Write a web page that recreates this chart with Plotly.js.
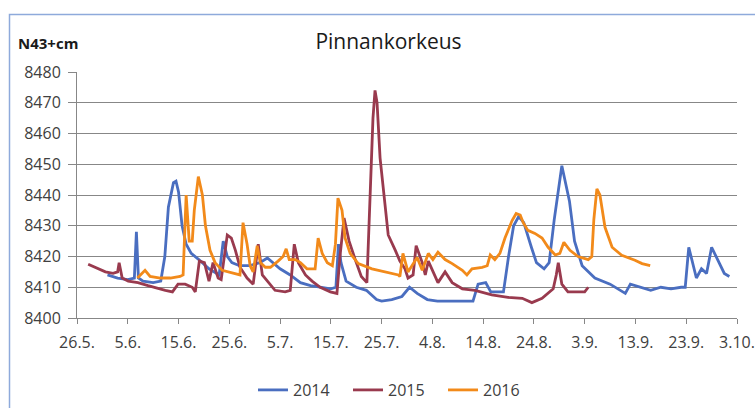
<!DOCTYPE html>
<html>
<head>
<meta charset="utf-8">
<script src="https://cdn.plot.ly/plotly-3.0.1.min.js"></script>
<style>
  html, body { margin: 0; padding: 0; background: #ffffff; }
  #chart { width: 755px; height: 408px; }
</style>
</head>
<body>
<div id="chart"></div>
<script>
// x values: days since 26.5.
const tickDays   = [0, 10, 20, 30, 40, 50, 60, 70, 80, 90, 100, 110, 120, 130];
const tickLabels = ["26.5.", "5.6.", "15.6.", "25.6.", "5.7.", "15.7.", "25.7.", "4.8.", "14.8.", "24.8.", "3.9.", "13.9.", "23.9.", "3.10."];

const days2014 = [
  6, 8, 10, 11.3, 11.7, 12.1, 13, 15, 16.5, 17.3,
  18, 19, 19.5, 20, 20.7, 21.5, 22.5, 24, 26, 28,
  28.8, 29.6, 30.5, 32, 34, 36, 37.5, 38.5, 40, 42,
  44, 46, 48, 50, 51, 51.5, 52, 53, 55, 57,
  59, 60, 62, 64, 65.5, 67, 69, 71, 75, 78,
  79, 80.5, 81.5, 84, 85, 86, 87, 88, 89.5, 90.5,
  92, 93, 94, 95.5, 97, 98, 99.5, 102, 105, 107,
  108, 109, 111, 113, 115, 117, 119, 119.8, 120.5, 122,
  123, 124, 125, 126.5, 127.5, 128.5
];
const level2014 = [
  8414, 8413, 8412.5, 8413, 8428, 8413, 8412, 8411.5, 8412, 8420,
  8436, 8444, 8444.5, 8441, 8430, 8424, 8421, 8419, 8416, 8414,
  8425, 8420, 8418, 8417, 8417, 8418, 8419.5, 8418, 8416, 8414,
  8411.5, 8410.5, 8410, 8409.5, 8410, 8424, 8418, 8412, 8410, 8409,
  8406, 8405.5, 8406, 8407, 8410, 8408, 8406, 8405.5, 8405.5, 8405.5,
  8411, 8411.5, 8408.5, 8408.5, 8420, 8430, 8433, 8431, 8423, 8418,
  8416, 8418, 8432, 8449.5, 8438, 8425, 8417, 8413, 8411, 8409,
  8408, 8411, 8410, 8409, 8410, 8409.5, 8410, 8410, 8423, 8413,
  8416, 8414.5, 8423, 8418, 8414.5, 8413.5
];

const days2015 = [
  2.2, 3.6, 5.6, 7.1, 8, 8.3, 8.9, 10.1, 12, 14,
  16, 17.4, 18.8, 19.9, 21.3, 22.7, 23.3, 24.1, 25.1, 26,
  26.8, 27.8, 28.4, 29.6, 30.4, 31.2, 32.1, 33.5, 34.7, 35.7,
  36.5, 37.7, 39, 41, 42, 42.8, 43.6, 45, 46.3, 47.9,
  49.9, 51.2, 51.8, 52.6, 53.6, 54.8, 56, 57.1, 57.7, 58.3,
  58.7, 59.1, 59.7, 60.7, 61.3, 62.7, 63.6, 64.6, 65.2, 66.2,
  66.8, 68, 68.6, 69.2, 70.2, 71.1, 72.5, 73.9, 75.9, 78.4,
  81.7, 84.9, 87.7, 89.6, 91.6, 92.8, 93.8, 94.4, 94.8, 95.5,
  96.7, 98.6, 100, 100.7
];
const level2015 = [
  8417.5, 8416.5, 8415, 8414.5, 8415, 8418, 8413, 8412, 8411.5, 8410.5,
  8409.5, 8409, 8408.5, 8411, 8411, 8410, 8408.5, 8418.5, 8418, 8412,
  8418, 8413, 8412.5, 8427, 8426, 8422, 8416.5, 8413, 8411, 8424,
  8414, 8411.5, 8409, 8408.5, 8409, 8424, 8418, 8414, 8412, 8410,
  8408.5, 8408, 8420, 8432.5, 8425, 8419, 8413.5, 8411.5, 8440, 8465,
  8474, 8470, 8452, 8435, 8427, 8422, 8418.5, 8416, 8413, 8414,
  8423.5, 8418, 8414, 8418.5, 8415, 8411.5, 8415, 8411.5, 8409.5, 8409,
  8407.5, 8406.7, 8406.4, 8405, 8406.4, 8408, 8409.5, 8414, 8418, 8411,
  8408.5, 8408.5, 8408.5, 8410
];

const days2016 = [
  11.9, 13.4, 14.4, 16.4, 18.4, 20.3, 20.9, 21.5, 22.1, 22.7,
  23.1, 23.9, 24.7, 25.3, 26.2, 27.2, 28.6, 29.8, 31.2, 32.1,
  32.7, 33.5, 34.1, 34.7, 35.5, 36.1, 37.1, 38.1, 39.6, 40.6,
  41.2, 41.8, 43, 44, 45.3, 46.9, 47.5, 48.3, 49.3, 50.3,
  50.9, 51.4, 52.2, 52.8, 53.8, 55.4, 58.1, 60.7, 63.3, 63.6,
  64.2, 65.2, 66, 67, 68, 69.2, 70.1, 71.1, 72.5, 73.9,
  75.9, 76.8, 77.8, 79.8, 80.8, 81.4, 82.3, 83.3, 84.3, 85.7,
  86.5, 87.3, 87.9, 88.8, 90.2, 91.6, 92.8, 94.2, 95.1, 95.9,
  97.1, 98.7, 100.7, 101.4, 101.8, 102.4, 103, 104, 105.4, 107.3,
  109.9, 111.3, 112.9
];
const level2016 = [
  8413, 8415.5, 8413.5, 8413, 8413, 8413.5, 8414, 8440, 8425, 8425,
  8435, 8446, 8440, 8430, 8422, 8418, 8415.5, 8415, 8414.5, 8414,
  8431, 8424, 8417, 8415, 8423.5, 8418, 8416.5, 8416.5, 8418.5, 8420,
  8422.5, 8419, 8419, 8418, 8416, 8416, 8426, 8421, 8418, 8417,
  8424, 8439, 8435, 8426, 8421, 8417.7, 8416, 8415, 8414, 8413.5,
  8421, 8415, 8417, 8419.7, 8415.5, 8421, 8419, 8421.4, 8419, 8417.7,
  8415.5, 8414, 8416, 8416.5, 8417, 8420.5, 8419, 8421, 8426, 8431.7,
  8434, 8433.5, 8431, 8428.5, 8427.5, 8426, 8423, 8420.5, 8421, 8424.6,
  8422, 8420, 8419, 8420, 8432, 8442, 8440, 8429.5, 8423, 8420.4,
  8418.8, 8417.7, 8417
];

const seriesNames = ["2014", "2015", "2016"];
const seriesColors = ["#4a6ec0", "#993a4e", "#f28a1a"];

const traces = [
  [days2014, level2014],
  [days2015, level2015],
  [days2016, level2016]
].map((s, i) => ({
  type: "scatter",
  mode: "lines",
  name: seriesNames[i],
  x: s[0],
  y: s[1],
  line: { color: seriesColors[i], width: 2.8 },
  hoverinfo: "skip"
}));

const W = 755, H = 408;
const L = 77, R = 737, T = 72, B = 318;
const px2x = p => (p - L) / (R - L);
const px2y = p => (B - p) / (B - T);

const font = "'Open Sans', 'Noto Sans', sans-serif";
const grey = "#878787";

const bx0 = px2x(9.5), bx1 = px2x(900), by0 = px2y(600), by1 = px2y(14.5);

const layout = {
  width: W,
  height: H,
  margin: { l: L, r: W - R, t: T, b: H - B, pad: 0, autoexpand: false },
  paper_bgcolor: "#ffffff",
  plot_bgcolor: "#ffffff",
  font: { family: font, size: 16, color: "#404040" },
  title: {
    text: "Pinnankorkeus",
    font: { family: font, size: 21, color: "#1a1a1a" },
    x: 388.5 / W, xref: "container", xanchor: "center",
    y: 1 - 42 / H, yref: "container", yanchor: "middle",
    automargin: false
  },
  xaxis: {
    range: [0, 130],
    tickmode: "array",
    tickvals: tickDays,
    ticktext: tickLabels,
    showgrid: false,
    zeroline: false,
    showline: true,
    linecolor: grey,
    linewidth: 1,
    ticks: "outside",
    ticklen: 5,
    tickcolor: grey,
    ticklabelstandoff: 5,
    tickfont: { family: font, size: 16, color: "#404040" },
    automargin: false,
    fixedrange: true
  },
  yaxis: {
    range: [8400, 8480],
    dtick: 10,
    tick0: 8400,
    showgrid: true,
    gridcolor: grey,
    gridwidth: 1,
    zeroline: false,
    showline: true,
    linecolor: grey,
    linewidth: 1,
    ticks: "outside",
    ticklen: 8,
    tickcolor: grey,
    ticklabelstandoff: 4,
    tickfont: { family: font, size: 16, color: "#404040" },
    automargin: false,
    fixedrange: true
  },
  showlegend: true,
  legend: {
    orientation: "h",
    x: px2x(253),
    xanchor: "left",
    y: px2y(390),
    yanchor: "middle",
    font: { family: font, size: 16, color: "#404040" },
    bgcolor: "rgba(0,0,0,0)",
    entrywidth: 50,
    entrywidthmode: "pixels",
    itemwidth: 30
  },
  annotations: [{
    text: "<b>N43+cm</b>",
    xref: "paper", yref: "paper",
    x: px2x(16), xanchor: "left",
    y: px2y(43), yanchor: "middle",
    showarrow: false,
    font: { family: font, size: 15, color: "#1a1a1a" }
  }],
  shapes: [{
    type: "path",
    xref: "paper", yref: "paper",
    path: `M ${bx0},${by0} L ${bx0},${by1} L ${bx1},${by1}`,
    line: { color: "#8eaadb", width: 1.5 },
    layer: "below"
  }]
};

Plotly.newPlot("chart", traces, layout, { staticPlot: true, displayModeBar: false });
</script>
</body>
</html>
